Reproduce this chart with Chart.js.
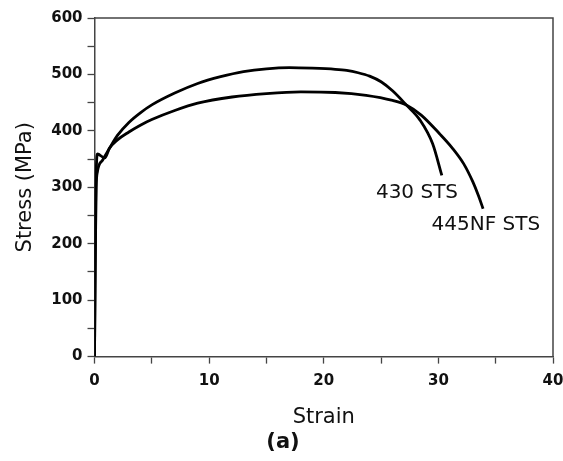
<!DOCTYPE html>
<html>
<head>
<meta charset="utf-8">
<script src="https://cdn.jsdelivr.net/npm/chart.js@4.4.1/dist/chart.umd.min.js"></script>
<style>
  html, body { margin: 0; padding: 0; background: #fff; }
  #wrap { width: 563px; height: 461px; }
</style>
</head>
<body>
<div id="wrap"><canvas id="stressStrainChart" width="563" height="461"></canvas></div>
<script>
// 430 STS (upper curve)
const strain430 = [0, 0.05, 0.1, 0.15, 0.25, 0.7, 1.3, 2, 3, 4, 5, 7, 9, 11, 13, 15, 17, 19, 21, 22, 23, 24, 25, 26, 27.2, 28.4, 29.5, 30.3];
const stress430 = [0, 120, 230, 300, 327, 348, 369, 392, 415, 432, 446, 467, 484, 496, 505, 510, 512, 511, 509, 507, 503, 497, 487, 471, 446, 419, 377, 321];

// 445NF STS (lower curve, with yield drop)
const strain445 = [0, 0.05, 0.1, 0.18, 0.25, 0.9, 1.3, 2, 3, 4, 5, 7, 9, 12, 15, 18, 21, 23.7, 26, 27.2, 28.5, 30.1, 31.2, 32.2, 33, 33.5, 33.9];
const stress445 = [0, 150, 280, 345, 359, 352, 369, 384, 398, 410, 420, 436, 449, 460, 466, 469, 468, 463, 454, 446, 428, 395, 370, 342, 310, 285, 262];

const curveLabels = ["430 STS", "445NF STS"];
const labelAt = [[24.55, 291], [29.4, 233]];

function toPoints(xs, ys) {
  return xs.map((x, i) => ({ x: x, y: ys[i] }));
}

const FONT = "'DejaVu Sans', sans-serif";

// frame + curve names
const extras = {
  id: "extras",
  afterDraw(chart) {
    const c = chart.ctx;
    const a = chart.chartArea;
    c.save();
    c.strokeStyle = "#444";
    c.lineWidth = 1.5;
    c.beginPath();
    c.moveTo(a.left, a.top);
    c.lineTo(a.right, a.top);
    c.lineTo(a.right, a.bottom);
    c.stroke();
    c.fillStyle = "#111";
    c.font = "20px " + FONT;
    c.textAlign = "left";
    c.textBaseline = "middle";
    curveLabels.forEach((t, i) => {
      const px = chart.scales.x.getPixelForValue(labelAt[i][0]);
      const py = chart.scales.y.getPixelForValue(labelAt[i][1]);
      c.fillText(t, px, py);
    });
    c.restore();
  },
};

const ctx = document.getElementById("stressStrainChart").getContext("2d");
const stressStrainChart = new Chart(ctx, {
  type: "scatter",
  data: {
    datasets: [
      {
        label: curveLabels[0],
        data: toPoints(strain430, stress430),
        showLine: true,
        borderColor: "#000",
        borderWidth: 2.8,
        pointRadius: 0,
        cubicInterpolationMode: "monotone",
      },
      {
        label: curveLabels[1],
        data: toPoints(strain445, stress445),
        showLine: true,
        borderColor: "#000",
        borderWidth: 2.8,
        pointRadius: 0,
        cubicInterpolationMode: "monotone",
      },
    ],
  },
  options: {
    responsive: false,
    animation: false,
    layout: {
      padding: { top: 18, right: 10, left: 13, bottom: 6 },
    },
    scales: {
      x: {
        min: 0,
        max: 40,
        afterFit(scale) {
          scale.paddingRight = 0;
        },
        ticks: {
          stepSize: 5,
          autoSkip: false,
          maxRotation: 0,
          padding: 9,
          color: "#111",
          font: { family: FONT, size: 15, weight: "bold" },
          callback: (v) => (v % 10 === 0 ? v : ""),
        },
        grid: {
          drawOnChartArea: false,
          tickLength: 7,
          tickColor: "#444",
          tickWidth: 1.3,
        },
        border: { color: "#444", width: 1.5 },
        title: {
          display: true,
          text: "Strain",
          color: "#111",
          font: { family: FONT, size: 21 },
          padding: { top: 5, bottom: 0 },
        },
      },
      y: {
        min: 0,
        max: 600,
        ticks: {
          stepSize: 50,
          autoSkip: false,
          padding: 5,
          color: "#111",
          font: { family: FONT, size: 15, weight: "bold" },
          callback: (v) => (v % 100 === 0 ? v : ""),
        },
        grid: {
          drawOnChartArea: false,
          tickLength: 7,
          tickColor: "#444",
          tickWidth: 1.3,
        },
        border: { color: "#444", width: 1.5 },
        title: {
          display: true,
          text: "Stress (MPa)",
          color: "#111",
          font: { family: FONT, size: 21 },
          padding: { top: 0, bottom: 8 },
        },
      },
    },
    plugins: {
      legend: { display: false },
      tooltip: { enabled: false },
      title: {
        display: true,
        position: "bottom",
        text: "(a)",
        color: "#111",
        font: { family: FONT, size: 21, weight: "bold" },
        padding: { top: 0, bottom: 0 },
      },
    },
  },
  plugins: [extras],
});
</script>
</body>
</html>
